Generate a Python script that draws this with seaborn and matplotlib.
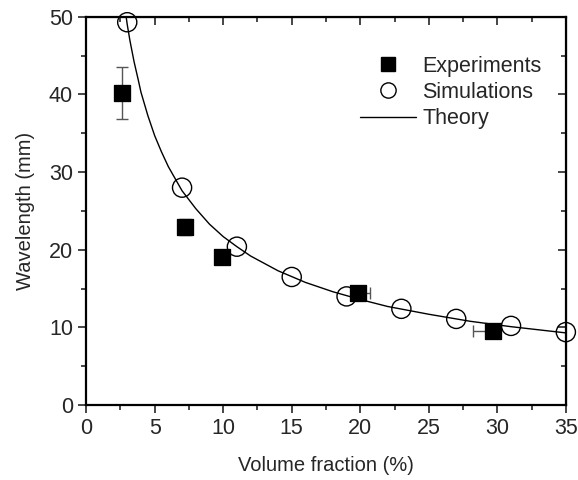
import numpy as np
import pandas as pd
import matplotlib
matplotlib.use("Agg")
import matplotlib.pyplot as plt
import seaborn as sns
from matplotlib.lines import Line2D

# Experimental data (with error bars)
exp_x = [2.6, 7.2, 9.9, 19.8, 29.7]
exp_y = [40.2, 22.9, 19.1, 14.4, 9.6]
exp_yerr_lo = [3.4, 1.0, 0.0, 0.0, 0.0]
exp_yerr_hi = [3.4, 1.1, 0.0, 0.0, 0.0]
exp_xerr_lo = [0.0, 0.0, 0.0, 0.0, 1.5]
exp_xerr_hi = [0.0, 0.0, 0.0, 0.9, 0.0]

# Simulation data
sim_x = [3, 7, 11, 15, 19, 23, 27, 31, 35]
sim_y = [49.3, 28.0, 20.4, 16.5, 14.0, 12.4, 11.1, 10.2, 9.4]

# Theory curve
theory_x = [2.92, 3.0, 3.2, 3.5, 3.8, 4.0, 4.5, 5.0, 5.5, 6.0, 7.0, 8.0, 9.0, 10.0,
            11.0, 12.0, 14.0, 16.0, 18.0, 20.0, 22.0, 25.0, 28.0, 31.0, 35.0]
theory_y = [50.0, 49.0, 46.9, 44.2, 41.9, 40.3, 37.3, 34.7, 32.6, 30.7, 27.6, 25.3,
            23.3, 21.7, 20.4, 19.2, 17.3, 15.8, 14.6, 13.6, 12.7, 11.7, 10.8, 10.1, 9.3]

sns.set_style("white")
plt.rcParams["font.family"] = ["Liberation Sans", "DejaVu Sans"]

fig = plt.figure(figsize=(5.78, 4.8), dpi=100)
ax = fig.add_axes([0.149, 0.156, 0.830, 0.809])

theory = pd.DataFrame({"x": theory_x, "y": theory_y})
sns.lineplot(data=theory, x="x", y="y", color="black", linewidth=1.0, ax=ax, sort=False)

ax.errorbar(exp_x, exp_y, yerr=[exp_yerr_lo, exp_yerr_hi], xerr=[exp_xerr_lo, exp_xerr_hi],
            fmt="none", ecolor="#555555", elinewidth=1.0, capsize=4, capthick=1.0, zorder=3)

sim = pd.DataFrame({"x": sim_x, "y": sim_y})
sns.scatterplot(data=sim, x="x", y="y", marker="o", s=190, facecolor="none",
                edgecolor="black", linewidth=1.0, ax=ax, zorder=4, clip_on=False)

exp = pd.DataFrame({"x": exp_x, "y": exp_y})
sns.scatterplot(data=exp, x="x", y="y", marker="s", s=140, color="black",
                edgecolor="black", ax=ax, zorder=5)

ax.set_xlim(0, 35)
ax.set_ylim(0, 50)
ax.set_xticks(np.arange(0, 36, 5))
ax.set_xticks(np.arange(2.5, 35, 5), minor=True)
ax.set_yticks(np.arange(0, 51, 10))
ax.set_yticks(np.arange(5, 50, 10), minor=True)
ax.set_xlabel("Volume fraction (%)", fontsize=14.5, labelpad=12)
ax.set_ylabel("Wavelength (mm)", fontsize=14.5, labelpad=10)

for s in ax.spines.values():
    s.set_linewidth(1.6)
    s.set_color("black")

ax.tick_params(which="both", direction="out", bottom=True, left=True, labelsize=15.5, width=1.2)
ax.tick_params(which="major", length=6)
ax.tick_params(which="minor", length=3.5)

# mirrored inward ticks on top and right
top = ax.secondary_xaxis("top")
top.set_xticks(np.arange(0, 36, 5))
top.set_xticks(np.arange(2.5, 35, 5), minor=True)
top.tick_params(which="both", direction="in", labeltop=False, width=1.2)
top.tick_params(which="major", length=6)
top.tick_params(which="minor", length=3.5)
right = ax.secondary_yaxis("right")
right.set_yticks(np.arange(0, 51, 10))
right.set_yticks(np.arange(5, 50, 10), minor=True)
right.tick_params(which="both", direction="in", labelright=False, width=1.2)
right.tick_params(which="major", length=6)
right.tick_params(which="minor", length=3.5)

handles = [
    Line2D([], [], marker="s", color="black", linestyle="none", markersize=10),
    Line2D([], [], marker="o", markerfacecolor="none", markeredgecolor="black",
           linestyle="none", markersize=11),
    Line2D([], [], color="black", linewidth=1.0),
]
ax.legend(handles, ["Experiments", "Simulations", "Theory"], loc="upper right",
          bbox_to_anchor=(0.99, 0.95), frameon=False, fontsize=15.5,
          handlelength=2.6, handletextpad=0.3, labelspacing=0.25)

fig.savefig("out.png", dpi=100)
